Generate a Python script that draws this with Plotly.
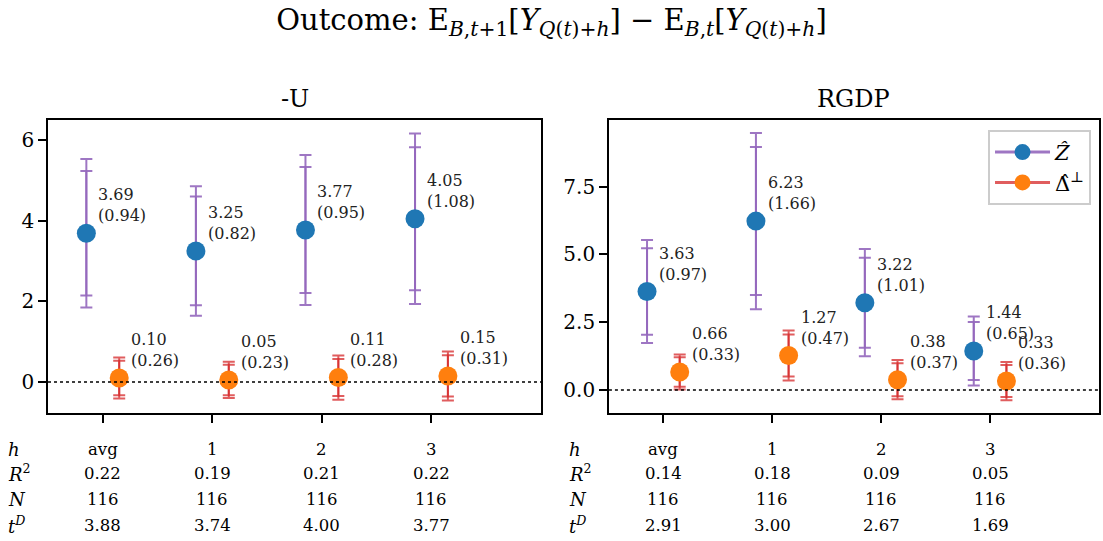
import plotly.graph_objects as go

# ---------------- data ----------------
horizons = ["avg", "1", "2", "3"]
panels = ["-U", "RGDP"]

z_est_u = [3.69, 3.25, 3.77, 4.05]
z_se_u = [0.94, 0.82, 0.95, 1.08]
d_est_u = [0.10, 0.05, 0.11, 0.15]
d_se_u = [0.26, 0.23, 0.28, 0.31]

z_est_g = [3.63, 6.23, 3.22, 1.44]
z_se_g = [0.97, 1.66, 1.01, 0.65]
d_est_g = [0.66, 1.27, 0.38, 0.33]
d_se_g = [0.33, 0.47, 0.37, 0.36]

r2_u = [0.22, 0.19, 0.21, 0.22]
n_u = [116, 116, 116, 116]
td_u = [3.88, 3.74, 4.00, 3.77]

r2_g = [0.14, 0.18, 0.09, 0.05]
n_g = [116, 116, 116, 116]
td_g = [2.91, 3.00, 2.67, 1.69]

crit_95 = 1.96
crit_90 = 1.645

# ---------------- styling ----------------
FONT = "DejaVu Serif"
BLUE = "#1f77b4"
ORANGE = "#ff7f0e"
PURPLE = "rgba(148,103,189,0.9)"
RED = "rgba(214,39,40,0.75)"
OFF = 0.15

fig = go.Figure()

panel_data = [
    (z_est_u, z_se_u, d_est_u, d_se_u, r2_u, n_u, td_u),
    (z_est_g, z_se_g, d_est_g, d_se_g, r2_g, n_g, td_g),
]

annotations = []
xs = list(range(len(horizons)))

for p, (ze, zs, de, ds, r2, nn, td) in enumerate(panel_data):
    xa = "x" if p == 0 else "x2"
    ya = "y" if p == 0 else "y2"
    xz = [x - OFF for x in xs]
    xd = [x + OFF for x in xs]
    for est, se, xpos, ecol in [(ze, zs, xz, PURPLE), (de, ds, xd, RED)]:
        for crit in (crit_95, crit_90):
            fig.add_trace(go.Scatter(
                x=xpos, y=est, mode="markers", xaxis=xa, yaxis=ya,
                marker=dict(size=1, color="rgba(0,0,0,0)"),
                error_y=dict(type="data", array=[crit * s for s in se],
                             color=ecol, thickness=2, width=6),
                showlegend=False, hoverinfo="skip"))
    fig.add_trace(go.Scatter(x=xz, y=ze, mode="markers", xaxis=xa, yaxis=ya,
                             marker=dict(size=19, color=BLUE), showlegend=False))
    fig.add_trace(go.Scatter(x=xd, y=de, mode="markers", xaxis=xa, yaxis=ya,
                             marker=dict(size=19, color=ORANGE), showlegend=False))
    # point labels
    for est, se, xpos in [(ze, zs, xz), (de, ds, xd)]:
        for xv, e, s in zip(xpos, est, se):
            annotations.append(dict(
                x=xv, y=e, xref=xa, yref=ya, text=f"{e:.2f}<br>({s:.2f})",
                showarrow=False, xanchor="left", yanchor="bottom", align="left",
                xshift=10, yshift=6, font=dict(family=FONT, size=16, color="#222")))
    # zero line
    fig.add_shape(type="line", xref=f"{xa} domain", yref=ya, x0=0, x1=1, y0=0, y1=0,
                  line=dict(color="black", width=1.5, dash="dot"))
    # panel title
    annotations.append(dict(x=0.5, y=1, xref=f"{xa} domain", yref="paper",
                            text=panels[p], showarrow=False, yanchor="bottom",
                            yshift=5, font=dict(family=FONT, size=24, color="black")))
    # table below
    rows = [
        ("<i>h</i>", horizons),
        ("<i>R</i><sup>2</sup>", [f"{v:.2f}" for v in r2]),
        ("<i>N</i>", [f"{v:d}" for v in nn]),
        ("<i>t</i><sup><i>D</i></sup>", [f"{v:.2f}" for v in td]),
    ]
    shifts = [-36, -60, -86, -112]
    for (lab, vals), sh in zip(rows, shifts):
        annotations.append(dict(x=-0.085, y=0, xref=f"{xa} domain", yref="paper",
                                text=lab, showarrow=False, xanchor="left",
                                yanchor="middle", yshift=sh,
                                font=dict(family=FONT, size=18, color="black")))
        for xv, v in zip(xs, vals):
            annotations.append(dict(x=xv, y=0, xref=xa, yref="paper", text=v,
                                    showarrow=False, xanchor="center",
                                    yanchor="middle", yshift=sh,
                                    font=dict(family=FONT, size=16.5, color="black")))

# legend entries
fig.add_trace(go.Scatter(x=[None], y=[None], mode="lines+markers", xaxis="x2", yaxis="y2",
                         line=dict(color=PURPLE, width=3),
                         marker=dict(size=18, color=BLUE), name="<i>Ẑ</i>"))
fig.add_trace(go.Scatter(x=[None], y=[None], mode="lines+markers", xaxis="x2", yaxis="y2",
                         line=dict(color=RED, width=3),
                         marker=dict(size=18, color=ORANGE), name="Δ̂<sup>⊥</sup>"))

axis_common = dict(showgrid=False, zeroline=False, showline=True, mirror=True,
                   linecolor="black", linewidth=1.5, ticks="outside", ticklen=8,
                   tickwidth=1.5, tickcolor="black",
                   tickfont=dict(family=FONT, size=20, color="black"))

fig.update_layout(
    width=1103, height=541, autosize=False,
    margin=dict(l=48, r=2, t=120, b=128),
    paper_bgcolor="white", plot_bgcolor="white",
    xaxis=dict(domain=[0, 0.4691], range=[-0.5, 4.0], tickvals=xs,
               showticklabels=False, **axis_common),
    yaxis=dict(anchor="x", range=[-0.77, 6.5], tickvals=[0, 2, 4, 6], **axis_common),
    xaxis2=dict(domain=[0.5337, 1.0], range=[-0.5, 4.0], tickvals=xs,
                showticklabels=False, anchor="y2", **axis_common),
    yaxis2=dict(anchor="x2", range=[-0.85, 9.96], tickvals=[0, 2.5, 5, 7.5],
                tickformat=".1f", **axis_common),
    title=dict(text="Outcome: E<sub><i>B</i>,<i>t</i>+1</sub>[<i>Y</i><sub><i>Q</i>(<i>t</i>)+<i>h</i></sub>]"
                    " − E<sub><i>B</i>,<i>t</i></sub>[<i>Y</i><sub><i>Q</i>(<i>t</i>)+<i>h</i></sub>]",
               x=0.5, xanchor="center", xref="container",
               y=1 - 20 / 541, yanchor="middle", yref="container",
               font=dict(family=FONT, size=29, color="black")),
    legend=dict(x=0.9924, y=0.966, xanchor="right", yanchor="top",
                bgcolor="rgba(255,255,255,0.8)", bordercolor="#cccccc", borderwidth=2,
                itemwidth=55, tracegroupgap=2,
                font=dict(family=FONT, size=21, color="black")),
    annotations=annotations,
    showlegend=True,
)

fig.write_html("out.html")
